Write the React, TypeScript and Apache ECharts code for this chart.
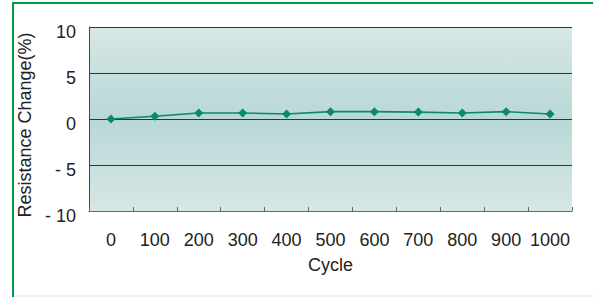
import React, { useEffect, useRef } from "react";
import * as echarts from "echarts";

const cycles = ["0", "100", "200", "300", "400", "500", "600", "700", "800", "900", "1000"];
const resistanceChange = [0, 0.3, 0.65, 0.65, 0.55, 0.8, 0.8, 0.75, 0.65, 0.8, 0.55];
const yName = "Resistance Change(%)";
const xName = "Cycle";

export default function App() {
  const ref = useRef<HTMLDivElement>(null);
  useEffect(() => {
    if (!ref.current) return;
    const chart = echarts.init(ref.current, null, { renderer: "svg" });
    const font = "'Liberation Sans', Arial, sans-serif";
    chart.setOption({
      animation: false,
      backgroundColor: "#ffffff",
      grid: {
        left: 89,
        right: 21,
        top: 27,
        bottom: 86,
        show: true,
        borderWidth: 0,
        backgroundColor: new echarts.graphic.LinearGradient(0, 0, 0, 1, [
          { offset: 0, color: "#d7e7e6" },
          { offset: 0.5, color: "#b8d8d6" },
          { offset: 1, color: "#d7e7e6" },
        ]),
      },
      xAxis: {
        type: "category",
        data: cycles,
        boundaryGap: true,
        name: xName,
        nameLocation: "middle",
        nameGap: 45,
        nameTextStyle: { fontFamily: font, fontSize: 18, color: "#222" },
        axisLine: { onZero: false, lineStyle: { color: "#666", width: 1 } },
        axisTick: { show: true, inside: true, length: 4, interval: 0, lineStyle: { color: "#666" } },
        axisLabel: { fontFamily: font, fontSize: 18, color: "#222", margin: 20, interval: 0 },
        splitLine: { show: false },
      },
      yAxis: {
        type: "value",
        min: -10,
        max: 10,
        interval: 5,
        name: yName,
        nameLocation: "middle",
        nameGap: 51,
        nameTextStyle: { fontFamily: font, fontSize: 18, color: "#222", padding: [0, 0, 0, -12] },
        axisLine: { show: true, lineStyle: { color: "#444", width: 1 } },
        axisTick: { show: false },
        axisLabel: {
          fontFamily: font,
          fontSize: 18,
          color: "#222",
          margin: 13,
          verticalAlign: "top",
          lineHeight: 10,
          formatter: (v: number) => (v < 0 ? "- " + Math.abs(v) : String(v)),
        },
        splitLine: { show: true, lineStyle: { color: "#333", width: 1 } },
      },
      series: [
        {
          type: "line",
          data: resistanceChange,
          symbol: "diamond",
          symbolSize: 9,
          itemStyle: { color: "#0a8a6a" },
          lineStyle: { color: "#0a8a6a", width: 1.6 },
        },
      ],
      graphic: [
        { type: "rect", shape: { x: 12, y: 2, width: 2, height: 295 }, style: { fill: "#009a4e" }, silent: true },
        { type: "rect", shape: { x: 12, y: 2, width: 581, height: 2 }, style: { fill: "#009a4e" }, silent: true },
        { type: "rect", shape: { x: 14, y: 295, width: 579, height: 2 }, style: { fill: "#e6f3f0" }, silent: true },
      ],
    });
    return () => chart.dispose();
  }, []);
  return (
    <div
      ref={ref}
      style={{ position: "fixed", left: 0, top: 0, width: 593, height: 297 }}
    />
  );
}
